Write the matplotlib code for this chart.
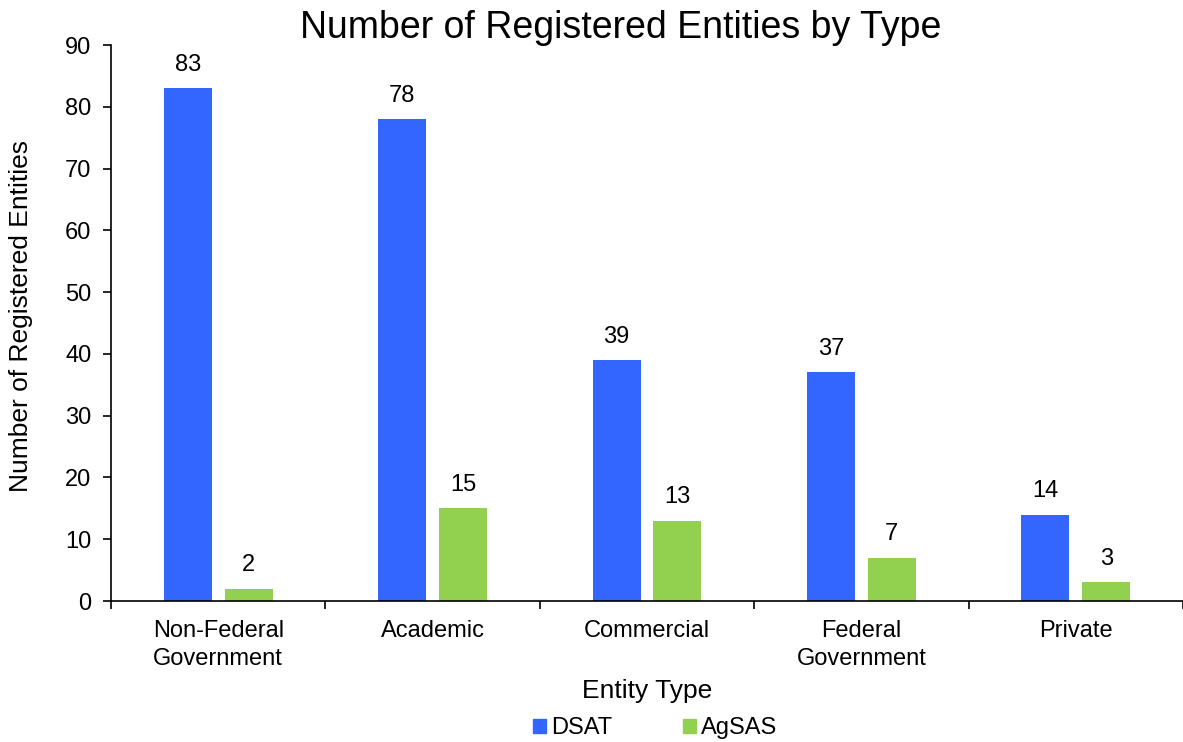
import numpy as np
import matplotlib
matplotlib.use('Agg')
import matplotlib.pyplot as plt
from matplotlib.patches import Patch

# chart data
categories = ['Non-Federal\nGovernment', 'Academic', 'Commercial', 'Federal\nGovernment', 'Private']
dsat = [83, 78, 39, 37, 14]
agsas = [2, 15, 13, 7, 3]
series_names = ['DSAT', 'AgSAS']

plt.rcParams['font.family'] = ['Liberation Sans', 'DejaVu Sans']

fig = plt.figure(figsize=(11.83, 7.42), dpi=100)
ax = fig.add_axes([111 / 1183, 1 - 601 / 742, 1 - 111 / 1183, (601 - 45) / 742])

x = np.arange(len(categories))
w = 0.224
off = 0.142
blue = '#3366FF'
green = '#92D050'

b1 = ax.bar(x - off, dsat, w, color=blue)
b2 = ax.bar(x + off, agsas, w, color=green)

for bars, vals in [(b1, dsat), (b2, agsas)]:
    for bar, v in zip(bars, vals):
        ax.annotate(str(v), (bar.get_x() + bar.get_width() / 2, v),
                    xytext=(0, 9), textcoords='offset points',
                    ha='center', va='bottom', fontsize=17)

ax.set_xlim(-0.5, len(categories) - 0.5)
ax.set_ylim(0, 90)
ax.set_yticks(range(0, 91, 10))
ax.tick_params(axis='y', labelsize=17, length=6, width=1.2, direction='out', pad=8)

ax.set_xticks(x)
ax.set_xticklabels(categories, fontsize=17, linespacing=1.35)
ax.tick_params(axis='x', which='major', length=0, pad=14)
ax.set_xticks(np.arange(-0.5, len(categories) + 0.5, 1), minor=True)
ax.tick_params(axis='x', which='minor', length=6, width=1.2, direction='out')

for s in ['top', 'right']:
    ax.spines[s].set_visible(False)
for s in ['left', 'bottom']:
    ax.spines[s].set_linewidth(1.2)

fig.text(621 / 1183, 1 - 28 / 742, 'Number of Registered Entities by Type',
         fontsize=27, ha='center', va='center')
ax.set_xlabel('Entity Type', fontsize=19, labelpad=6)
ax.set_ylabel('Number of Registered Entities', fontsize=19)
ax.yaxis.set_label_coords(-78 / 1072, (601 - 316) / 556)

handles = [Patch(color=blue), Patch(color=green)]
fig.legend(handles, series_names, loc='center', bbox_to_anchor=(655 / 1183, 1 - 728 / 742),
           ncol=2, frameon=False, fontsize=17, handlelength=0.55, handleheight=0.55,
           handletextpad=0.2, columnspacing=3.0, borderaxespad=0)

fig.savefig('out.png', dpi=100)
